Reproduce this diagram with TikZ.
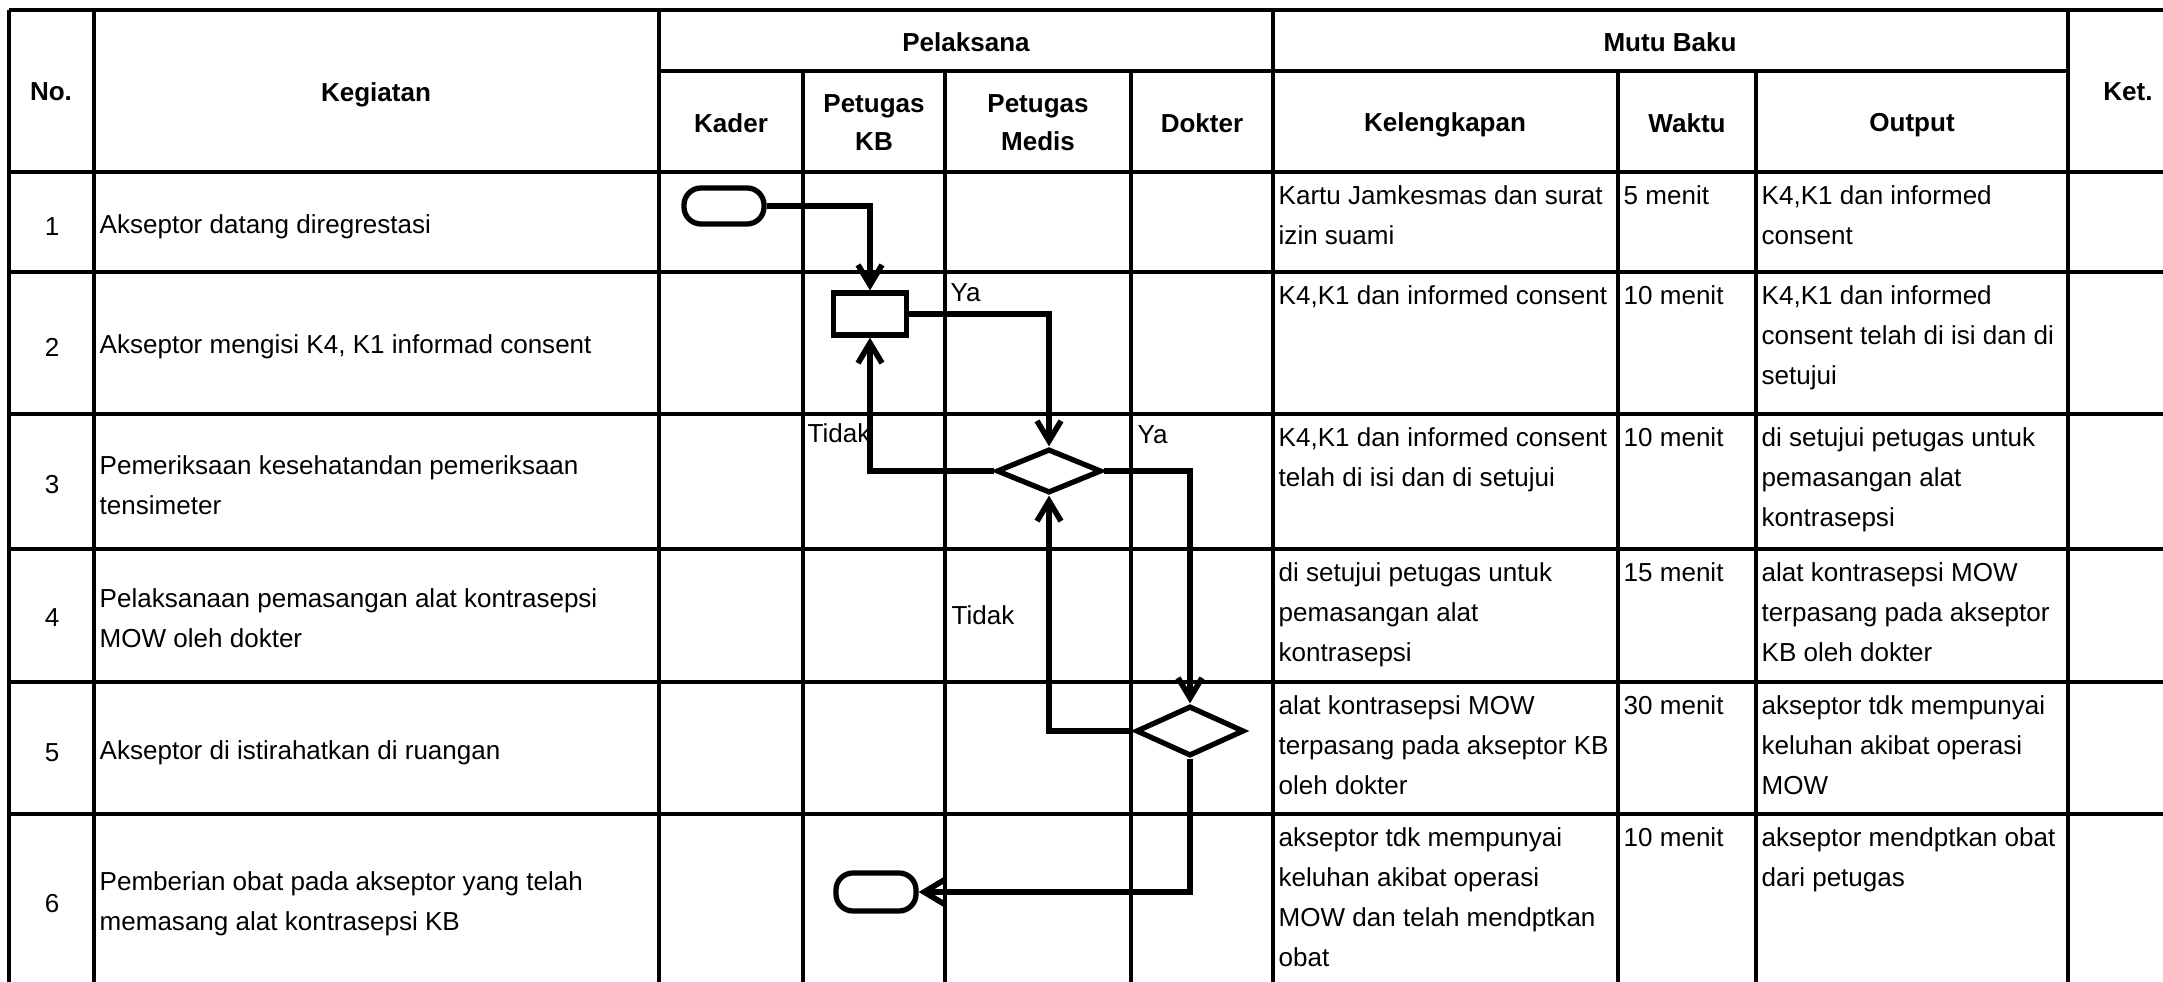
\documentclass[tikz,border=0pt]{standalone}
\usepackage{fontspec}
\setmainfont{Liberation Sans}
\usetikzlibrary{arrows.meta,positioning,shapes.geometric}

\begin{document}
\begin{tikzpicture}[
    x=0.01cm,y=-0.01cm,
    font=\fontsize{7.4}{11.4}\selectfont,
    grid/.style={line width=1pt},
    head/.style={font=\fontsize{7.4}{10.8}\selectfont\bfseries,
                 align=center,inner sep=0pt},
    cell/.style={anchor=north west,align=left,inner sep=0pt},
    task/.style={anchor=west,align=left,inner sep=0pt},
    terminal/.style={draw,line width=1.5pt,rounded corners=0.17cm,
                     minimum width=0.8cm,minimum height=0.36cm,inner sep=0pt},
    process/.style={draw,line width=1.5pt,minimum width=0.73cm,
                    minimum height=0.42cm,inner sep=0pt},
    decision/.style={draw,diamond,line width=1.5pt,inner sep=0pt},
    arr/.style={-{Straight Barb[length=2mm,width=2.4mm]},line width=1.6pt},
    label/.style={anchor=north west,inner sep=0pt},
]

\useasboundingbox (0,0) rectangle (2163,982);
\clip (0,0) rectangle (2163,982);

% ---- Table grid --------------------------------------------------------
\foreach \y in {10,172,272,414,549,682,814,986}
    \draw[grid] (9,\y) -- (2188,\y);
\draw[grid] (659,71) -- (2068,71);
\foreach \x in {9,94,659,1273,2068,2188}
    \draw[grid] (\x,10) -- (\x,986);
\foreach \x in {803,945,1131,1618,1756}
    \draw[grid] (\x,71) -- (\x,986);

% ---- Header ------------------------------------------------------------
\node[head] (hNo)  at (51,92)    {No.};
\node[head] (hKeg) at (376,95)   {Kegiatan};
\node[head] (hPel) at (966,42)   {Pelaksana};
\node[head] (hMutu) at (1670,42) {Mutu Baku};
\node[head] (hKet) at (2128,92)  {Ket.};

\node[head] (hKader) at (731,123)  {Kader};
\node[head] (hPKB)   at (874,123)  {Petugas\\KB};
\node[head] (hPM)    at (1038,123) {Petugas\\Medis};
\node[head] (hDok)   at (1202,123) {Dokter};
\node[head] (hKel)   at (1445,125) {Kelengkapan};
\node[head] (hWkt)   at (1687,123) {Waktu};
\node[head] (hOut)   at (1912,125) {Output};

% ---- Kegiatan ----------------------------------------------------------
\foreach \n/\yc/\txt in {
    1/227/{Akseptor datang diregrestasi},
    2/347/{Akseptor mengisi K4, K1 informad consent},
    3/485/{Pemeriksaan kesehatandan pemeriksaan\\tensimeter},
    4/618/{Pelaksanaan pemasangan alat kontrasepsi\\MOW oleh dokter},
    5/753/{Akseptor di istirahatkan di ruangan},
    6/904/{Pemberian obat pada akseptor yang telah\\memasang alat kontrasepsi KB}}
{
    \node[inner sep=0pt] (no\n) at (52,\yc) {\n};
    \node[task] (keg\n) at (99,\yc) {\txt};
}

% ---- Mutu baku ---------------------------------------------------------
\foreach \n/\yt/\kel/\wkt/\out in {
    1/172/{Kartu Jamkesmas dan surat\\izin suami}/{5 menit}/{K4,K1 dan informed\\consent},
    2/272/{K4,K1 dan informed consent}/{10 menit}/{K4,K1 dan informed\\consent telah di isi dan di\\setujui},
    3/414/{K4,K1 dan informed consent\\telah di isi dan di setujui}/{10 menit}/{di setujui petugas untuk\\pemasangan alat\\kontrasepsi},
    4/549/{di setujui petugas untuk\\pemasangan alat\\kontrasepsi}/{15 menit}/{alat kontrasepsi MOW\\terpasang pada akseptor\\KB oleh dokter},
    5/682/{alat kontrasepsi MOW\\terpasang pada akseptor KB\\oleh dokter}/{30 menit}/{akseptor tdk mempunyai\\keluhan akibat operasi\\MOW},
    6/814/{akseptor tdk mempunyai\\keluhan akibat operasi\\MOW dan telah mendptkan\\obat}/{10 menit}/{akseptor mendptkan obat\\dari petugas}}
{
    \node[cell] (kel\n) at (1278,\yt+13) {\kel};
    \node[cell] (wkt\n) at (1623,\yt+13) {\wkt};
    \node[cell] (out\n) at (1761,\yt+13) {\out};
}

% ---- Flow shapes -------------------------------------------------------
\node[terminal] (start) at (724,206) {};
\node[process] (isi) at (870,314) {};
\node[decision,minimum width=1.05cm,minimum height=0.44cm] (cek1) at (1049,471) {};
\node[decision,minimum width=1.08cm,minimum height=0.5cm] (cek2) at (1190,731) {};
\node[terminal,minimum height=0.38cm] (selesai) at (876,892) {};

% ---- Connectors --------------------------------------------------------
\draw[arr] (start) -| (isi);
\draw[arr] (isi) -| (cek1);
\draw[arr] (cek1) -| (isi);
\draw[arr] (cek1) -| (cek2);
\draw[arr] (cek2) -| (cek1);
\draw[arr] (cek2) |- (selesai);

% ---- Branch labels -----------------------------------------------------
\node[label] (ya1)    at (950,283)  {Ya};
\node[label] (tidak1) at (807,423)  {Tidak};
\node[label] (ya2)    at (1137,425) {Ya};
\node[label] (tidak2) at (951,605)  {Tidak};

\end{tikzpicture}
\end{document}
